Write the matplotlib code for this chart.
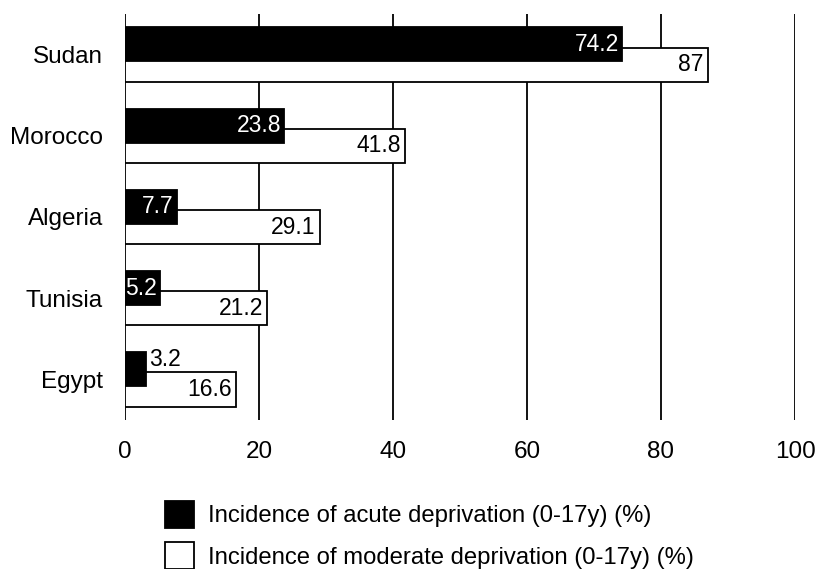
import matplotlib.pyplot as plt
import numpy as np
from matplotlib.patches import Patch

plt.rcParams['font.family'] = ['Liberation Sans', 'DejaVu Sans']

countries = ['Sudan', 'Morocco', 'Algeria', 'Tunisia', 'Egypt']
acute = [74.2, 23.8, 7.7, 5.2, 3.2]
moderate = [87, 41.8, 29.1, 21.2, 16.6]
acute_lab = ['74.2', '23.8', '7.7', '5.2', '3.2']
moderate_lab = ['87', '41.8', '29.1', '21.2', '16.6']
xticks = [0, 20, 40, 60, 80, 100]

fig = plt.figure(figsize=(8.19, 5.69), dpi=100)
ax = fig.add_axes([0.1526, 0.2619, 0.8181, 0.7135])

y = np.arange(len(countries))
h = 0.42
off = 0.125

# white (moderate) first, black drawn on top
ax.barh(y + off, moderate, height=h, color='white', edgecolor='black', linewidth=1.3, zorder=2)
ax.barh(y - off, acute, height=h, color='black', edgecolor='black', linewidth=1.3, zorder=3)

for i in range(len(countries)):
    if acute[i] > 4:
        ax.annotate(acute_lab[i], (acute[i], y[i] - off), xytext=(-2, 0), textcoords='offset points',
                    ha='right', va='center', color='white', fontsize=16.5, zorder=4)
    else:
        ax.annotate(acute_lab[i], (acute[i], y[i] - off), xytext=(2, 7), textcoords='offset points',
                    ha='left', va='center', color='black', fontsize=16.5, zorder=4)
    ax.annotate(moderate_lab[i], (moderate[i], y[i] + off), xytext=(-3, 0), textcoords='offset points',
                ha='right', va='center', color='black', fontsize=16.5, zorder=4)

ax.set_xlim(0, 100)
ax.set_ylim(4.5, -0.5)
ax.set_yticks(y)
ax.set_yticklabels(countries, fontsize=17.5)
ax.set_xticks(xticks)
ax.set_xticklabels([str(t) for t in xticks], fontsize=17.5)
ax.tick_params(axis='both', length=0)
ax.tick_params(axis='x', pad=15)
ax.tick_params(axis='y', pad=16)
for s in ['top', 'right', 'bottom', 'left']:
    ax.spines[s].set_visible(False)
ax.set_axisbelow(True)
ax.grid(axis='x', color='black', linewidth=1.3)

handles = [Patch(facecolor='black', edgecolor='black', linewidth=1.3),
           Patch(facecolor='white', edgecolor='black', linewidth=1.3)]
fig.legend(handles, ['Incidence of acute deprivation (0-17y) (%)',
                     'Incidence of moderate deprivation (0-17y) (%)'],
           loc='upper left', bbox_to_anchor=(0.202, 0.12), frameon=False, fontsize=17.2,
           handlelength=1.2, handleheight=1.35, handletextpad=0.6, labelspacing=0.62,
           borderpad=0, borderaxespad=0)

fig.savefig('out.png', dpi=100)
